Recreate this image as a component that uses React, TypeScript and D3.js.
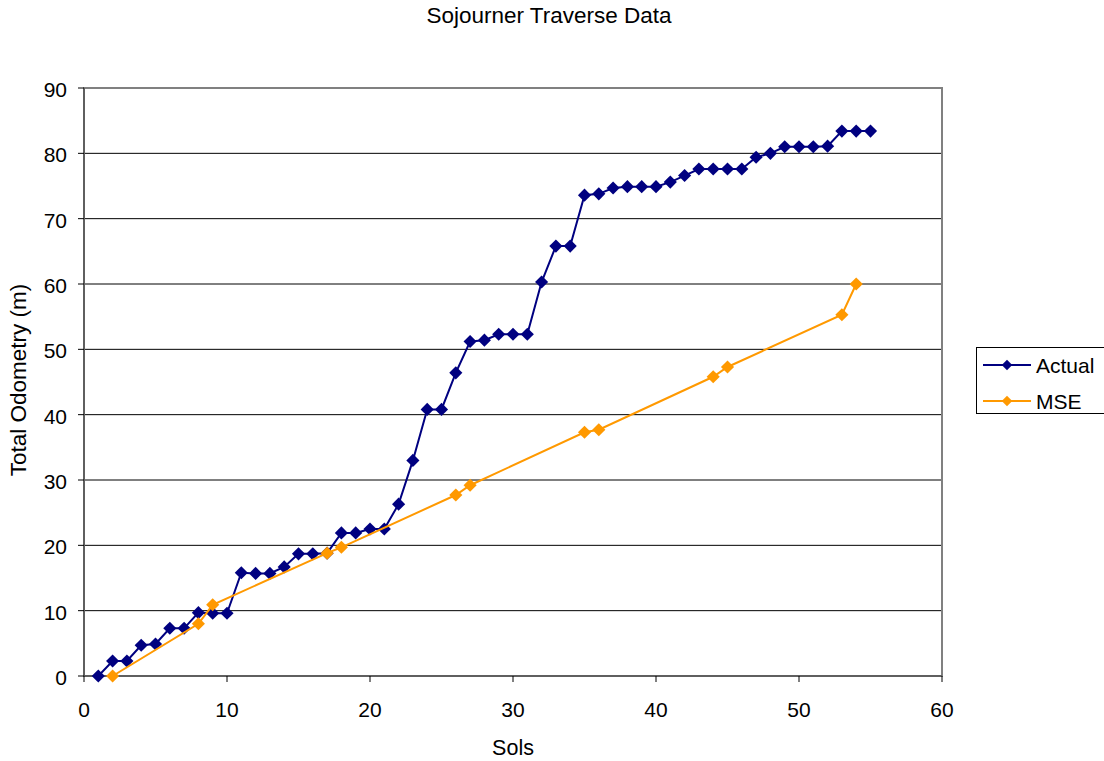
import React from "react";
import * as d3 from "d3";

const title = "Sojourner Traverse Data";
const xTitle = "Sols";
const yTitle = "Total Odometry (m)";

// Actual odometry per sol
const actualSols = [
  1, 2, 3, 4, 5, 6, 7, 8, 9, 10, 11, 12, 13, 14, 15, 16, 17, 18, 19, 20, 21, 22, 23, 24, 25, 26, 27, 28,
  29, 30, 31, 32, 33, 34, 35, 36, 37, 38, 39, 40, 41, 42, 43, 44, 45, 46, 47, 48, 49, 50, 51, 52, 53, 54, 55,
];
const actualValues = [
  0, 2.3, 2.3, 4.7, 4.9, 7.3, 7.3, 9.7, 9.6, 9.6, 15.8, 15.7, 15.7, 16.7, 18.7, 18.7, 18.8, 21.9, 21.9, 22.5,
  22.5, 26.3, 33.0, 40.8, 40.8, 46.4, 51.2, 51.4, 52.3, 52.3, 52.3, 60.3, 65.8, 65.8, 73.6, 73.8, 74.7, 74.9,
  74.9, 74.9, 75.6, 76.6, 77.6, 77.6, 77.6, 77.6, 79.4, 80.0, 81.0, 81.0, 81.0, 81.1, 83.4, 83.4, 83.4,
];

// MSE odometry
const mseSols = [2, 8, 9, 17, 18, 26, 27, 35, 36, 44, 45, 53, 54];
const mseValues = [0, 8.0, 10.9, 18.8, 19.7, 27.7, 29.2, 37.3, 37.7, 45.8, 47.3, 55.3, 60.0];

const xTicks = [0, 10, 20, 30, 40, 50, 60];
const yTicks = [0, 10, 20, 30, 40, 50, 60, 70, 80, 90];

const seriesNames = ["Actual", "MSE"];
const seriesColors = ["#000080", "#FF9900"];

const W = 1104;
const H = 761;
const plot = { left: 84, top: 88, right: 942, bottom: 676 };
const font = "'Liberation Sans', Arial, sans-serif";

export default function App() {
  const x = d3.scaleLinear().domain([0, 60]).range([plot.left, plot.right]);
  const y = d3.scaleLinear().domain([0, 90]).range([plot.bottom, plot.top]);

  const line = d3
    .line<[number, number]>()
    .x((d) => x(d[0]))
    .y((d) => y(d[1]));

  const series = [
    { pts: actualSols.map((s, i) => [s, actualValues[i]] as [number, number]), color: seriesColors[0] },
    { pts: mseSols.map((s, i) => [s, mseValues[i]] as [number, number]), color: seriesColors[1] },
  ];

  const diamond = d3.symbol().type(d3.symbolDiamond2).size(110)() as string;
  const legendDiamond = d3.symbol().type(d3.symbolDiamond2).size(70)() as string;

  return (
    <svg width={W} height={H} style={{ position: "absolute", left: 0, top: 0, background: "#fff" }} fontFamily={font}>
      <rect x={0} y={0} width={W} height={H} fill="#fff" />
      <text x={549} y={23} textAnchor="middle" fontSize={22.5}>
        {title}
      </text>

      {/* gridlines */}
      {yTicks.map((t) => (
        <line key={"g" + t} x1={plot.left} x2={plot.right} y1={y(t)} y2={y(t)} stroke="#000" strokeWidth={1} />
      ))}
      {/* plot frame */}
      <rect
        x={plot.left}
        y={plot.top}
        width={plot.right - plot.left}
        height={plot.bottom - plot.top}
        fill="none"
        stroke="#808080"
        strokeWidth={2}
      />
      {/* axes */}
      <line x1={plot.left} x2={plot.left} y1={plot.top} y2={plot.bottom} stroke="#555" strokeWidth={1.5} />
      <line x1={plot.left} x2={plot.right} y1={plot.bottom} y2={plot.bottom} stroke="#555" strokeWidth={1.5} />

      {yTicks.map((t) => (
        <g key={"y" + t}>
          <line x1={plot.left - 6} x2={plot.left} y1={y(t)} y2={y(t)} stroke="#000" />
          <text x={plot.left - 17} y={y(t) + 9} textAnchor="end" fontSize={21}>
            {t}
          </text>
        </g>
      ))}
      {xTicks.map((t) => (
        <g key={"x" + t}>
          <line x1={x(t)} x2={x(t)} y1={plot.bottom} y2={plot.bottom + 6} stroke="#000" />
          <text x={x(t)} y={717} textAnchor="middle" fontSize={21}>
            {t}
          </text>
        </g>
      ))}

      <text x={513} y={755} textAnchor="middle" fontSize={21.5}>
        {xTitle}
      </text>
      <text transform={`translate(26,380) rotate(-90)`} textAnchor="middle" fontSize={22.5}>
        {yTitle}
      </text>

      {series.map((s, i) => (
        <g key={"s" + i}>
          <path d={line(s.pts) as string} fill="none" stroke={s.color} strokeWidth={2} />
          {s.pts.map((p, j) => (
            <path key={j} d={diamond} transform={`translate(${x(p[0])},${y(p[1])})`} fill={s.color} />
          ))}
        </g>
      ))}

      {/* legend */}
      <rect x={976.5} y={347.5} width={130} height={66} fill="#fff" stroke="#000" strokeWidth={1} />
      {seriesNames.map((n, i) => {
        const ly = 365 + i * 36;
        return (
          <g key={n}>
            <line x1={983} x2={1031} y1={ly} y2={ly} stroke={seriesColors[i]} strokeWidth={2} />
            <path d={legendDiamond} transform={`translate(1007,${ly})`} fill={seriesColors[i]} />
            <text x={1036} y={ly + 8} fontSize={21}>
              {n}
            </text>
          </g>
        );
      })}
    </svg>
  );
}
